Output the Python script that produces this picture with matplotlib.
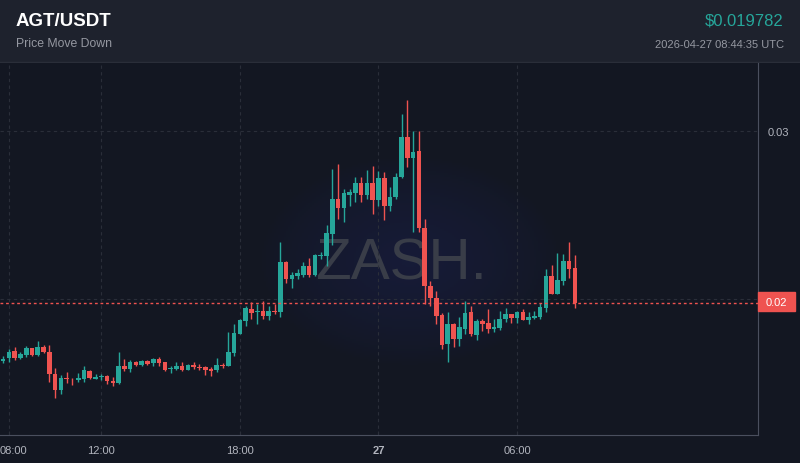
import matplotlib
matplotlib.use("Agg")
import matplotlib.pyplot as plt
import matplotlib.dates as mdates
import matplotlib.transforms as mtransforms
import numpy as np
import pandas as pd

# 15 minute candles, 26 Apr 07:45 -> 27 Apr 08:30 (UTC)
times = pd.date_range("2026-04-26 07:45", periods=100, freq="15min")

opens = [1633, 1651, 1692, 1651, 1668, 1710, 1668, 1716, 1686, 1555,
         1460, 1532, 1526, 1520, 1526, 1576, 1526, 1538, 1543, 1514,
         1502, 1603, 1585, 1627, 1609, 1635, 1623, 1646, 1624, 1585,
         1585, 1603, 1581, 1611, 1597, 1595, 1587, 1581, 1607, 1605,
         1682, 1795, 1871, 1942, 1923, 1930, 1902, 1930, 1926, 2224,
         2121, 2140, 2145, 2200, 2145, 2260, 2260, 2390, 2597, 2545,
         2623, 2633, 2692, 2623, 2692, 2591, 2722, 2557, 2607, 2730,
         2968, 2839, 2883, 2423, 2082, 2010, 1905, 1734, 1853, 1764,
         1823, 1924, 1787, 1871, 1856, 1823, 1829, 1883, 1911, 1889,
         1923, 1877, 1889, 1895, 1948, 2139, 2032, 2111, 2228, 2186]
highs = [1662, 1704, 1716, 1686, 1722, 1713, 1752, 1728, 1728, 1591,
         1549, 1567, 1532, 1561, 1603, 1582, 1555, 1555, 1549, 1538,
         1686, 1645, 1639, 1635, 1637, 1641, 1652, 1655, 1627, 1601,
         1629, 1629, 1617, 1625, 1615, 1605, 1597, 1651, 1621, 1804,
         1855, 1880, 1962, 1982, 1972, 1992, 1960, 1972, 2343, 2226,
         2162, 2180, 2224, 2248, 2271, 2283, 2442, 2776, 2805, 2657,
         2657, 2728, 2728, 2770, 2793, 2764, 2758, 2668, 2752, 3103,
         3186, 3004, 3004, 2478, 2111, 2051, 1917, 1923, 1859, 1895,
         1990, 1958, 1883, 1883, 1942, 1883, 1930, 1948, 1913, 1930,
         1942, 1923, 1930, 1978, 2180, 2204, 2276, 2270, 2341, 2264]
lows = [1621, 1627, 1639, 1645, 1657, 1662, 1665, 1680, 1508, 1413,
        1436, 1502, 1490, 1508, 1508, 1523, 1524, 1520, 1496, 1484,
        1496, 1573, 1569, 1605, 1605, 1609, 1605, 1605, 1573, 1563,
        1581, 1573, 1577, 1585, 1581, 1549, 1545, 1565, 1593, 1601,
        1664, 1792, 1839, 1883, 1855, 1883, 1879, 1913, 1895, 2097,
        2067, 2121, 2133, 2133, 2140, 2240, 2198, 2323, 2478, 2462,
        2557, 2577, 2577, 2597, 2510, 2557, 2474, 2527, 2597, 2722,
        2786, 2399, 2399, 1972, 1958, 1853, 1704, 1629, 1714, 1724,
        1793, 1780, 1760, 1811, 1799, 1807, 1819, 1867, 1859, 1859,
        1877, 1853, 1883, 1883, 1926, 2032, 2030, 2085, 2127, 1948]
closes = [1645, 1686, 1651, 1674, 1710, 1668, 1716, 1686, 1555, 1460,
          1532, 1526, 1523, 1532, 1579, 1532, 1538, 1541, 1514, 1502,
          1603, 1585, 1627, 1609, 1633, 1617, 1646, 1623, 1577, 1593,
          1603, 1577, 1611, 1597, 1593, 1579, 1576, 1609, 1603, 1686,
          1799, 1877, 1948, 1920, 1930, 1902, 1930, 1926, 2224, 2121,
          2145, 2155, 2200, 2145, 2264, 2262, 2395, 2597, 2545, 2633,
          2640, 2692, 2623, 2692, 2591, 2722, 2557, 2609, 2726, 2968,
          2839, 2879, 2423, 2081, 2010, 1902, 1728, 1853, 1764, 1835,
          1918, 1793, 1871, 1853, 1823, 1835, 1883, 1911, 1890, 1923,
          1877, 1895, 1899, 1954, 2139, 2032, 2115, 2228, 2180, 1978.2]

# prices above are in units of 1e-5 USDT
scale = 1e-5
o = np.array(opens) * scale
h = np.array(highs) * scale
l = np.array(lows) * scale
c = np.array(closes) * scale

symbol = "AGT/USDT"
subtitle = "Price Move Down"
last_price = 0.019782
stamp = "2026-04-27 08:44:35 UTC"

x_ticks = ["2026-04-26 08:00", "2026-04-26 12:00", "2026-04-26 18:00",
           "2026-04-27 00:00", "2026-04-27 06:00"]
x_labels = ["08:00", "12:00", "18:00", "27", "06:00"]
y_ticks = [0.02, 0.03]
y_labels = ["", "0.03"]   # 0.02 sits under the last-price tag

UP = "#26a69a"
DOWN = "#ef5350"
BG = "#131722"
HEAD = "#1e222d"
GRID = "#2a2e39"
TXT = "#b2b5be"

W, H = 800, 464
fig = plt.figure(figsize=(W / 100, H / 100), dpi=100)
fig.patch.set_facecolor(BG)

# header band
head = fig.add_axes([0, 1 - 64 / H, 1, 64 / H])
head.set_xlim(0, 1)
head.set_ylim(0, 1)
head.axis("off")
head.add_patch(plt.Rectangle((0, 0), 1, 1, color=HEAD, transform=head.transAxes))
head.axhline(0.01, color="#2a2e39", lw=1)

fig.text(16 / W, 1 - 21 / H, symbol, color="white", fontsize=13.5, fontweight="bold",
         family="Liberation Sans", va="center", ha="left")
fig.text(16 / W, 1 - 44 / H, subtitle, color="#9598a1", fontsize=8.8,
         family="Liberation Sans", va="center", ha="left")
fig.text(784 / W, 1 - 21 / H, "$%.6f" % last_price, color=UP, fontsize=12,
         family="Liberation Sans", va="center", ha="right")
fig.text(784 / W, 1 - 45 / H, stamp, color="#9598a1", fontsize=8,
         family="Liberation Sans", va="center", ha="right")

# glow behind the watermark
glow = fig.add_axes([0, 0, 1, 1], zorder=0)
glow.axis("off")
gx, gy = np.meshgrid(np.linspace(0, W, 400), np.linspace(0, H, 232))
r = np.sqrt(((gx - 410) / 150) ** 2 + ((gy - (H - 262)) / 105) ** 2)
alpha = np.clip(1 - r, 0, 1) ** 0.7 * 0.6
img = np.zeros(gx.shape + (4,))
img[..., 0] = 0.10
img[..., 1] = 0.12
img[..., 2] = 0.28
img[..., 3] = alpha
glow.imshow(img, extent=(0, W, 0, H), origin="lower", aspect="auto")
glow.set_xlim(0, W)
glow.set_ylim(0, H)

fig.text(401 / W, 1 - 265 / H, "ZASH.", color="#393d48", fontsize=42,
         family="Liberation Sans", va="center", ha="center", zorder=1)

ax = fig.add_axes([0, (H - 436) / H, 758 / W, (436 - 64) / H], zorder=2)
ax.patch.set_alpha(0)

xn = mdates.date2num(times)
step = xn[1] - xn[0]
up = c >= o
cols = np.where(up, UP, DOWN)
ax.vlines(xn, l, h, colors=cols, lw=1, zorder=3)
bottom = np.minimum(o, c)
height = np.maximum(np.abs(c - o), 0.000012)
ax.bar(xn, height, bottom=bottom, width=step * 0.8, color=cols, zorder=4, linewidth=0)

t0 = mdates.date2num(pd.Timestamp("2026-04-26 08:00"))
ax.set_xlim(t0 - 0.385 / 24, t0 + 32.43 / 24)
ax.set_ylim(0.011923, 0.034065)

ax.axhline(last_price, color=DOWN, lw=1, ls=(0, (2, 2)), zorder=5)

ax.set_xticks(mdates.date2num(pd.to_datetime(x_ticks)))
ax.set_xticklabels(x_labels)
ax.set_yticks(y_ticks)
ax.set_yticklabels(y_labels)
ax.yaxis.tick_right()
ax.tick_params(axis="x", colors=GRID, labelcolor=TXT, labelsize=8, direction="in",
               length=3, pad=7)
ax.tick_params(axis="y", length=0, labelcolor=TXT, labelsize=8, pad=7)
for lab in ax.get_xticklabels() + ax.get_yticklabels():
    lab.set_family("Liberation Sans")
xl = ax.get_xticklabels()
xl[3].set_fontweight("bold")
# first label is pushed inside the figure
xl[0].set_transform(xl[0].get_transform() +
                    mtransforms.ScaledTranslation(5 / 100, 0, fig.dpi_scale_trans))
ax.grid(True, color=GRID, ls=(0, (3, 3)), lw=0.8)
ax.set_axisbelow(True)
for s in ["top", "left"]:
    ax.spines[s].set_visible(False)
for s in ["right", "bottom"]:
    ax.spines[s].set_color("#4a4f5e")

# last price tag
fig.patches.append(plt.Rectangle((758 / W, 1 - 312 / H), 37 / W, 19 / H,
                                 color=DOWN, transform=fig.transFigure, zorder=6))
fig.text(776.5 / W, 1 - 303 / H, "%.2f" % last_price, color="white", fontsize=8,
         family="Liberation Sans", va="center", ha="center", zorder=7)

fig.savefig("out.png", dpi=100, facecolor=BG)
